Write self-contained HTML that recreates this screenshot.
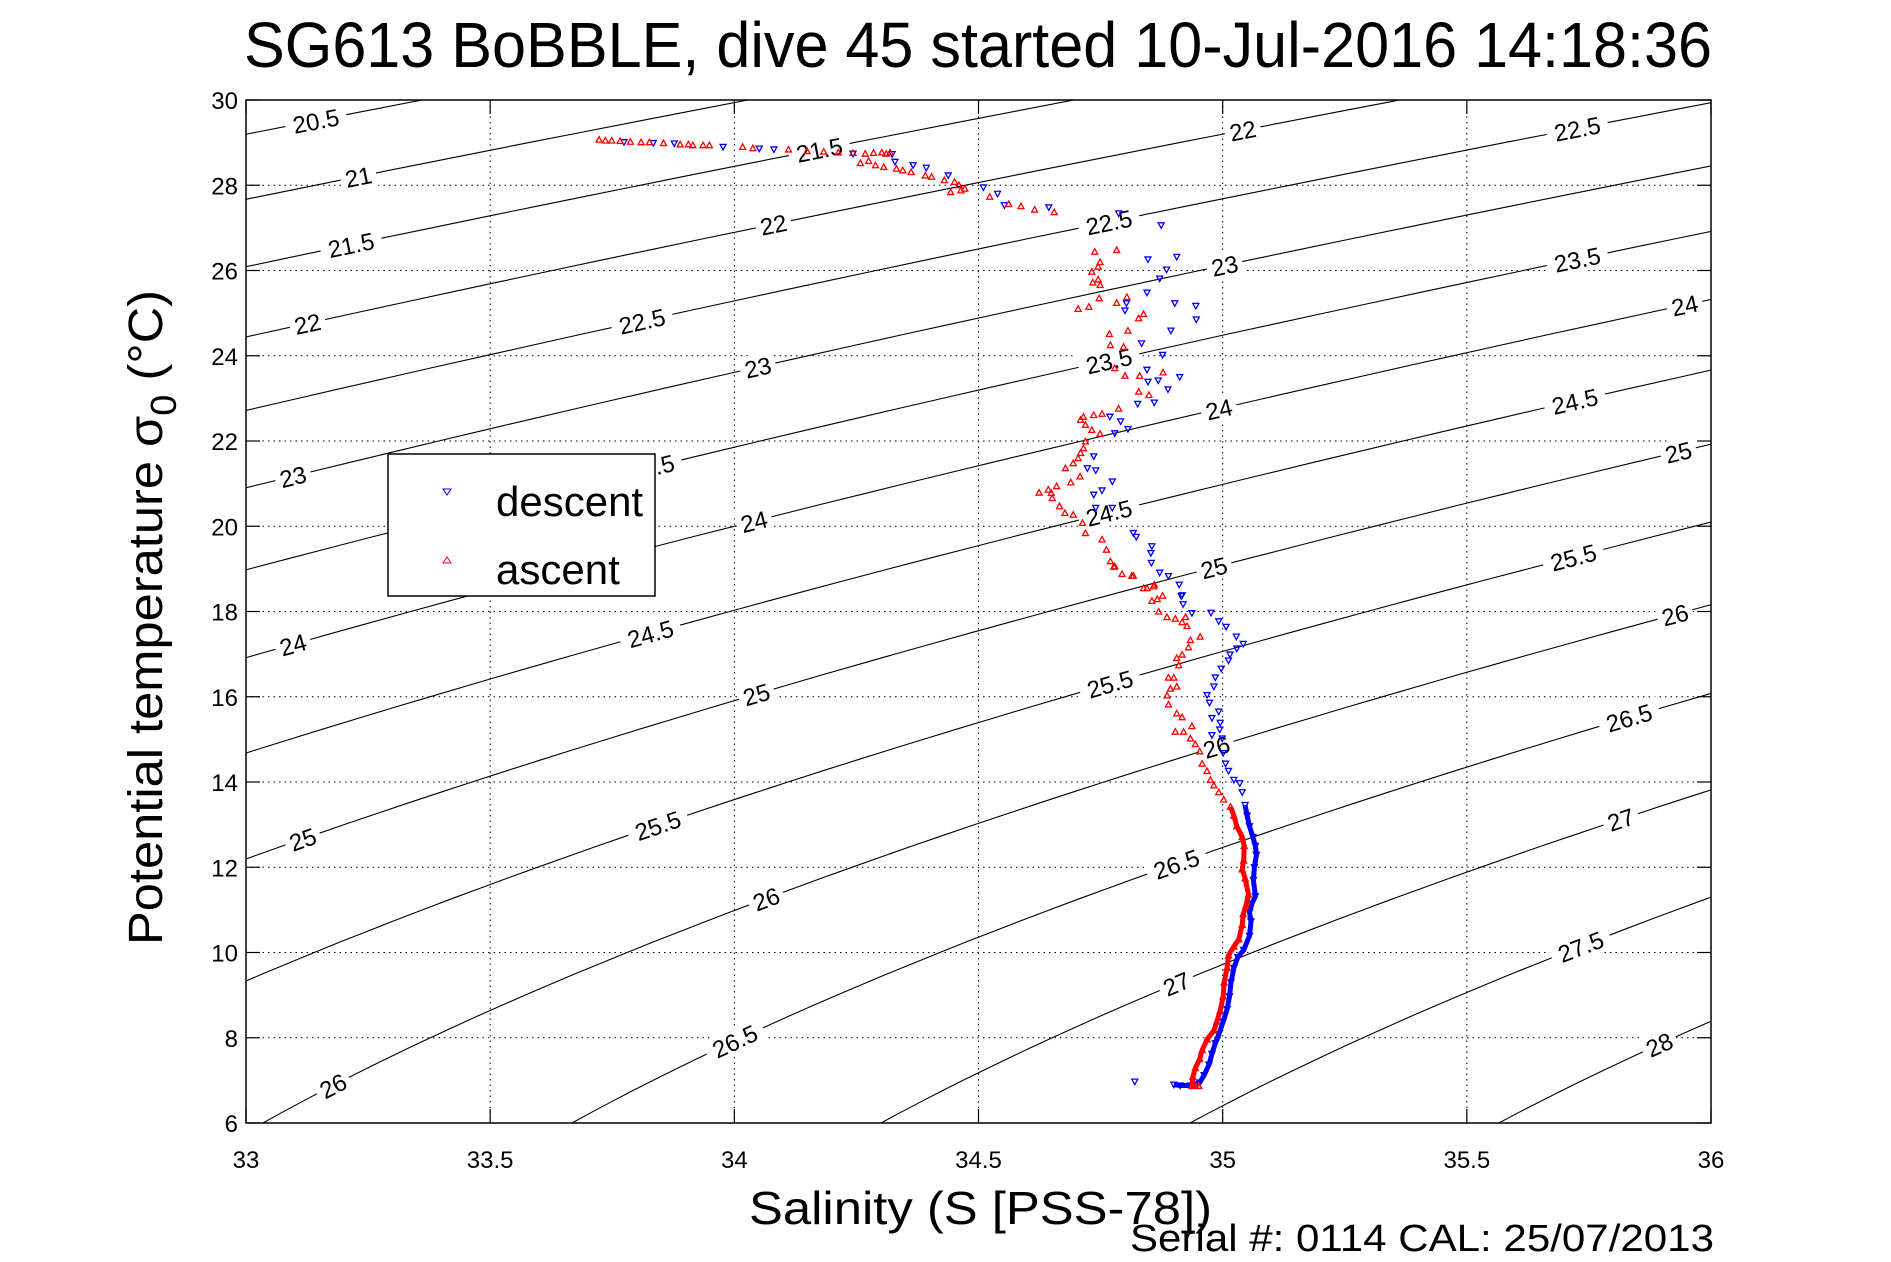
<!DOCTYPE html>
<html><head><meta charset="utf-8"><style>
html,body{margin:0;padding:0;background:#fff;}
svg{display:block;font-family:"Liberation Sans",sans-serif;}
</style></head><body>
<svg id="chart" width="1891" height="1262" viewBox="0 0 1891 1262" xmlns="http://www.w3.org/2000/svg">
<rect x="0" y="0" width="1891" height="1262" fill="#fff"/>
<defs><clipPath id="axclip"><rect x="246" y="100" width="1465" height="1023"/></clipPath></defs>
<text x="244" y="67" font-size="64" textLength="1468" lengthAdjust="spacingAndGlyphs">SG613 BoBBLE, dive 45 started 10-Jul-2016 14:18:36</text>
<g id="grid"></g>
<g id="contours" clip-path="url(#axclip)"></g>
<g id="clabels"></g>
<g id="series" clip-path="url(#axclip)"></g>
<rect x="246" y="100" width="1465" height="1023" fill="none" stroke="#000" stroke-width="1.5"/>
<g id="ticks"></g>
<text x="749" y="1224" font-size="46" textLength="463" lengthAdjust="spacingAndGlyphs">Salinity (S [PSS-78])</text>
<text x="1130" y="1251" font-size="38" textLength="584" lengthAdjust="spacingAndGlyphs">Serial #: 0114  CAL: 25/07/2013</text>
<text transform="translate(162,945) rotate(-90)" font-size="48" textLength="655" lengthAdjust="spacingAndGlyphs">Potential temperature σ<tspan font-size="36" dy="14">0</tspan><tspan dy="-14"> (°C)</tspan></text>
<g>
<rect x="388" y="454" width="267" height="142" fill="#fff" stroke="#000" stroke-width="1.5"/>
<path d="M443,489 L451,489 L447,495 Z" fill="none" stroke="#0000ff" stroke-width="1"/>
<text x="496" y="516" font-size="42">descent</text>
<path d="M443,563 L451,563 L447,557 Z" fill="none" stroke="#ff0000" stroke-width="1"/>
<text x="496" y="584" font-size="42">ascent</text>
</g>
</svg>
<script>
const xTicks = [33, 33.5, 34, 34.5, 35, 35.5, 36];
const xTickLabels = ["33", "33.5", "34", "34.5", "35", "35.5", "36"];
const yTicks = [6, 8, 10, 12, 14, 16, 18, 20, 22, 24, 26, 28, 30];
const yTickLabels = ["6", "8", "10", "12", "14", "16", "18", "20", "22", "24", "26", "28", "30"];
const sigmaLevels = [20.5, 21, 21.5, 22, 22.5, 23, 23.5, 24, 24.5, 25, 25.5, 26, 26.5, 27, 27.5, 28];
const labelLevels = [20.5, 21, 21.5, 22, 23, 24, 25, 26, 22, 22.5, 23, 23.5, 24, 24.5, 25, 25.5, 26, 26.5, 21.5, 22.5, 23.5, 24.5, 25.5, 26, 26.5, 27, 22, 23, 24, 25, 22.5, 23.5, 24, 24.5, 25, 25.5, 26, 26.5, 27, 27.5, 28];
const labelSal = [33.143, 33.230, 33.215, 33.126, 33.096, 33.096, 33.116, 33.178, 34.080, 33.811, 34.048, 33.830, 34.040, 33.828, 34.045, 33.843, 34.065, 34.001, 34.174, 34.767, 34.767, 34.767, 34.769, 34.987, 34.905, 34.905, 35.041, 35.004, 34.992, 34.982, 35.726, 35.726, 35.946, 35.721, 35.933, 35.718, 35.926, 35.832, 35.815, 35.733, 35.894];
const descentS = [33.774,33.834,33.877,33.977,34.051,34.081,34.243,34.323,34.329,34.366,34.393,34.438,34.510,34.539,34.553,34.644,34.787,34.874,34.847,34.906,34.885,34.871,34.845,34.803,34.902,34.945,34.800,34.946,34.894,34.834,34.877,34.845,34.868,34.912,34.888,34.847,34.826,34.860,34.769,34.791,34.806,34.779,34.736,34.723,34.740,34.774,34.753,34.736,34.740,34.774,34.817,34.823,34.855,34.853,34.854,34.871,34.889,34.911,34.915,34.917,34.919,34.937,34.976,34.992,35.007,35.028,35.042,35.029,35.015,35.012,34.997,34.985,34.982,34.968,34.973,34.992,34.978,34.995,34.994,34.978,34.999,35.001,35.006,35.012,35.023,35.035,35.040,35.046,35.050,35.055,35.062,35.067,35.069,35.065,35.063,35.067,35.060,35.055,35.058,35.055,35.043,35.031,35.023,35.017,35.014,35.009,35.001,34.992,34.985,34.978,34.972,34.962,34.953,34.934,34.913,34.900,34.820];
const descentT = [29.01,28.99,28.98,28.90,28.86,28.84,28.74,28.73,28.55,28.47,28.41,28.23,27.95,27.80,27.53,27.48,27.34,27.06,26.26,26.32,26.02,25.81,25.48,25.23,25.23,25.17,25.06,24.85,24.59,24.29,24.02,23.67,23.42,23.50,23.21,23.39,22.87,22.90,22.57,22.46,22.28,22.18,21.64,21.36,21.31,21.05,20.84,20.74,20.43,20.43,19.84,19.75,19.53,19.37,19.14,18.91,18.83,18.63,18.36,18.38,18.17,17.96,17.97,17.77,17.64,17.41,17.24,17.13,16.99,16.85,16.66,16.45,16.24,16.04,15.86,15.65,15.50,15.39,15.23,15.10,15.02,14.68,14.43,14.26,14.05,13.97,13.76,13.46,13.21,12.96,12.71,12.50,12.29,12.00,11.70,11.32,11.15,10.94,10.73,10.39,10.06,9.89,9.64,9.30,8.97,8.67,8.38,8.08,7.87,7.62,7.37,7.12,6.95,6.88,6.88,6.90,6.97];
const ascentS = [33.723,33.736,33.749,33.766,33.787,33.809,33.826,33.855,33.889,33.906,33.915,33.936,33.949,34.017,34.038,34.111,34.149,34.183,34.213,34.243,34.268,34.285,34.302,34.319,34.311,34.258,34.275,34.289,34.306,34.332,34.345,34.362,34.391,34.404,34.430,34.451,34.460,34.464,34.443,34.472,34.523,34.562,34.587,34.615,34.655,34.738,34.783,34.749,34.745,34.732,34.745,34.734,34.749,34.747,34.704,34.726,34.783,34.804,34.828,34.838,34.768,34.806,34.770,34.797,34.779,34.800,34.830,34.878,34.828,34.849,34.787,34.753,34.736,34.715,34.709,34.719,34.732,34.749,34.719,34.715,34.709,34.704,34.694,34.678,34.708,34.689,34.660,34.643,34.624,34.649,34.651,34.666,34.677,34.694,34.713,34.719,34.753,34.762,34.779,34.817,34.838,34.860,34.877,34.770,34.777,34.794,34.814,34.845,34.859,34.866,34.855,34.869,34.886,34.903,34.917,34.927,34.924,34.934,34.954,34.930,34.917,34.906,34.910,34.900,34.889,34.906,34.893,34.886,34.889,34.906,34.917,34.903,34.920,34.937,34.934,34.944,34.953,34.958,34.968,34.975,34.982,34.992,35.002,35.016,35.023,35.029,35.040,35.044,35.043,35.040,35.046,35.053,35.048,35.042,35.040,35.033,35.023,35.012,35.009,35.003,35.001,34.995,34.988,34.982,34.968,34.958,34.953,34.944,34.939,34.937,34.951];
const ascentT = [29.07,29.05,29.05,29.04,29.02,29.01,29.01,28.99,28.96,28.96,28.94,28.94,28.94,28.90,28.87,28.84,28.80,28.79,28.77,28.76,28.74,28.76,28.77,28.77,28.74,28.52,28.57,28.47,28.43,28.39,28.35,28.31,28.23,28.20,28.12,28.08,28.00,27.88,27.84,27.92,27.73,27.56,27.51,27.43,27.37,26.44,26.48,26.20,26.09,25.97,25.79,25.72,25.66,25.35,25.10,25.15,25.24,25.38,24.88,24.98,24.51,24.59,24.25,24.21,23.71,23.53,23.53,23.61,23.16,23.08,22.76,22.64,22.61,22.57,22.50,22.38,22.26,22.17,21.99,21.83,21.72,21.60,21.48,21.36,21.17,21.03,20.94,20.86,20.79,20.78,20.66,20.47,20.31,20.27,20.08,19.84,19.69,19.45,19.06,18.84,18.55,18.63,18.37,19.18,19.05,18.88,18.84,18.55,18.59,18.29,18.25,18.00,17.87,17.83,17.75,17.66,17.87,17.33,17.41,17.16,16.99,16.91,16.74,16.45,16.45,16.24,16.19,16.03,15.82,15.61,15.52,15.18,15.18,15.31,15.02,14.89,14.72,14.43,14.26,14.05,13.92,13.76,13.59,13.42,13.21,12.96,12.71,12.50,12.16,11.95,11.74,11.36,11.11,10.90,10.65,10.31,10.14,9.93,9.64,9.30,8.97,8.63,8.38,8.17,7.96,7.71,7.50,7.29,7.08,6.87,6.87];

const NS = "http://www.w3.org/2000/svg";
const X0 = 246, X1 = 1711, Y0 = 100, Y1 = 1123;
const xScale = s => X0 + (s - 33) / 3 * (X1 - X0);
const yScale = t => Y1 - (t - 6) / 24 * (Y1 - Y0);
function mk(tag, attrs, parent) { const e = document.createElementNS(NS, tag); for (const k in attrs) e.setAttribute(k, attrs[k]); parent.appendChild(e); return e; }

function sigma0(S, T) {
  const rw = 999.842594 + 6.793952e-2*T - 9.095290e-3*T*T + 1.001685e-4*T**3 - 1.120083e-6*T**4 + 6.536332e-9*T**5;
  const A = 0.824493 - 4.0899e-3*T + 7.6438e-5*T*T - 8.2467e-7*T**3 + 5.3875e-9*T**4;
  const B = -5.72466e-3 + 1.0227e-4*T - 1.6546e-6*T*T;
  return rw + A*S + B*Math.pow(S, 1.5) + 4.8314e-4*S*S - 1000;
}
function solveS(level, T) { let a = 20, b = 45; for (let i = 0; i < 50; i++) { const m = (a+b)/2; if (sigma0(m, T) < level) a = m; else b = m; } return (a+b)/2; }
function solveT(level, S) { let a = -2, b = 40; for (let i = 0; i < 50; i++) { const m = (a+b)/2; if (sigma0(S, m) > level) a = m; else b = m; } return (a+b)/2; }

const grid = document.getElementById('grid');
const ticks = document.getElementById('ticks');
xTicks.forEach((v, i) => {
  const x = xScale(v);
  if (i > 0 && i < xTicks.length - 1) {
    const g = mk('line', {x1: x, y1: Y0, x2: x, y2: Y1, stroke: '#000', 'stroke-width': 1, 'stroke-dasharray': '1.5,4'}, grid);
    
    
  }
  const tk = mk('line', {x1: x, y1: Y1, x2: x, y2: Y1 - 14, stroke: '#000', 'stroke-width': 1.2}, ticks);
  
  
  const tk2 = mk('line', {x1: x, y1: Y0, x2: x, y2: Y0 + 14, stroke: '#000', 'stroke-width': 1.2}, ticks);
  
  
  const t = mk('text', {x: x, y: 1168, 'font-size': 24, 'text-anchor': 'middle'}, ticks);
  t.textContent = xTickLabels[i];
  
  
});
yTicks.forEach((v, i) => {
  const y = yScale(v);
  if (i > 0 && i < yTicks.length - 1) {
    const g = mk('line', {x1: X0, y1: y, x2: X1, y2: y, stroke: '#000', 'stroke-width': 1, 'stroke-dasharray': '1.5,4'}, grid);
    
    
  }
  const tk = mk('line', {x1: X0, y1: y, x2: X0 + 14, y2: y, stroke: '#000', 'stroke-width': 1.2}, ticks);
  
  
  const tk2 = mk('line', {x1: X1, y1: y, x2: X1 - 14, y2: y, stroke: '#000', 'stroke-width': 1.2}, ticks);
  
  
  const t = mk('text', {x: 238, y: y + 9, 'font-size': 24, 'text-anchor': 'end'}, ticks);
  t.textContent = yTickLabels[i];
  
  
});

const cg = document.getElementById('contours');
sigmaLevels.forEach(lev => {
  let d = '';
  for (let T = 4; T <= 32.001; T += 0.25) {
    const S = solveS(lev, T);
    d += (d ? 'L' : 'M') + xScale(S).toFixed(1) + ',' + yScale(T).toFixed(1);
  }
  const p = mk('path', {d: d, fill: 'none', stroke: '#000', 'stroke-width': 1.1}, cg);
  
  
});

const lg = document.getElementById('clabels');
labelLevels.forEach((lev, i) => {
  const S = labelSal[i];
  const T = solveT(lev, S);
  const Ta = solveT(lev, S - 0.05), Tb = solveT(lev, S + 0.05);
  const ang = Math.atan2(yScale(Tb) - yScale(Ta), xScale(S + 0.05) - xScale(S - 0.05)) * 180 / Math.PI;
  const x = xScale(S), y = yScale(T);
  const g = mk('g', {transform: `translate(${x.toFixed(1)},${y.toFixed(1)}) rotate(${ang.toFixed(1)})`}, lg);
  
  
  const txt = String(lev);
  const w = txt.length * 13 + 10;
  mk('rect', {x: -w/2, y: -13, width: w, height: 26, fill: '#fff'}, g);
  const t = mk('text', {x: 0, y: 9, 'font-size': 24, 'text-anchor': 'middle'}, g);
  t.textContent = txt;
});

const sg = document.getElementById('series');
function denseBand(Sarr, Tarr, color, name) {
  let d = '';
  Sarr.forEach((s, i) => {
    if (Tarr[i] < 13.5 && Tarr[i] > 6.86 && s > 34.85) d += (d ? 'L' : 'M') + xScale(s).toFixed(1) + ',' + yScale(Tarr[i]).toFixed(1);
  });
  const p = mk('path', {d: d, fill: 'none', stroke: color, 'stroke-width': 5, 'stroke-linejoin': 'round'}, sg);
  
  
}
denseBand(descentS, descentT, '#0000ff', 'descent-dense-band');
descentS.forEach((s, i) => {
  const x = xScale(s), y = yScale(descentT[i]);
  const p = mk('path', {d: `M${x-3},${y-2.5} L${x+3},${y-2.5} L${x},${y+3} Z`, fill: 'none', stroke: '#0000ff', 'stroke-width': 1.3}, sg);
  
  
});
denseBand(ascentS, ascentT, '#ff0000', 'ascent-dense-band');
ascentS.forEach((s, i) => {
  const x = xScale(s), y = yScale(ascentT[i]);
  const p = mk('path', {d: `M${x-3},${y+2.5} L${x+3},${y+2.5} L${x},${y-3} Z`, fill: 'none', stroke: '#ff0000', 'stroke-width': 1.3}, sg);
  
  
});
</script>
</body></html>
